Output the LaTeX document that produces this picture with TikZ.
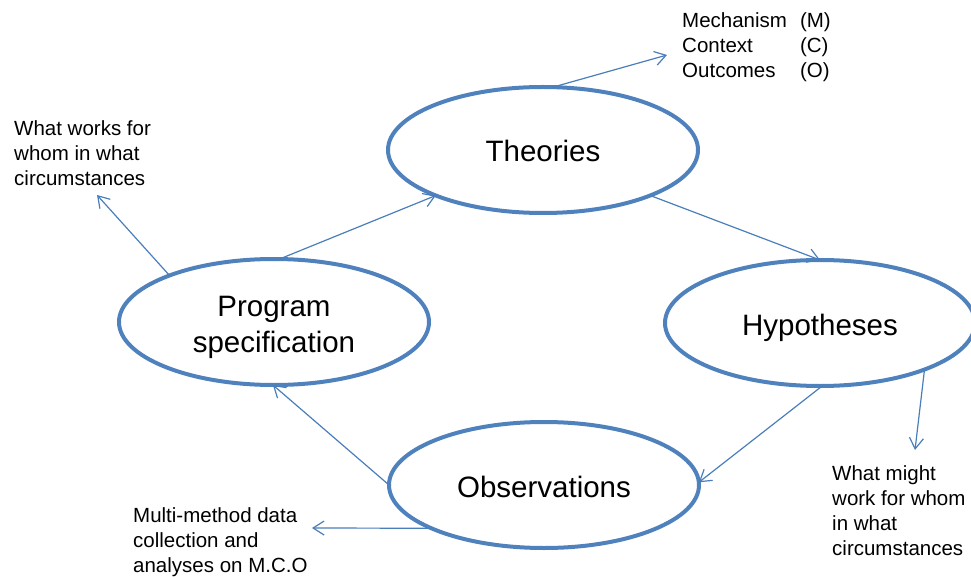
\documentclass[tikz,border=0pt]{standalone}
\usepackage{fontspec}
\setmainfont{Liberation Sans}
\usetikzlibrary{shapes.geometric,arrows.meta}
\definecolor{ringblue}{HTML}{4F81BD}
\definecolor{linkblue}{HTML}{4A7EBB}
\begin{document}
\begin{tikzpicture}[x=1pt,y=-1pt,
  stage/.style={ellipse, draw=ringblue, line width=4pt,
    minimum width=310pt, minimum height=126pt, inner sep=0pt, outer sep=0pt,
    font=\fontsize{29.5}{36}\selectfont, align=center,
    text height=24pt, text depth=0pt},
  link/.style={draw=linkblue, line width=1.2pt,
    -{Straight Barb[length=11pt,width=14pt]}},
  note/.style={anchor=base west, inner sep=0pt, align=left,
    font=\fontsize{20.5}{25}\selectfont}]
\useasboundingbox (0,0) rectangle (971,577);

% the four stages of the cycle
\node[stage] (theo) at (543,150) {Theories};
\node[stage, text height=60pt, text depth=0pt] (prog) at (274,322) {Program\\specification};
\node[stage] (hyp) at (820,323) {Hypotheses};
\node[stage] (obs) at (544,485) {Observations};

% side notes (placed by the baseline of their last line)
\node[note] (mcotext) at (682,28) {\begin{tabular}[t]{@{}l@{\hspace{13pt}}l@{}}Mechanism & (M)\\ Context & (C)\\ Outcomes & (O)\end{tabular}};
\node[note] (wwtext) at (14,186) {What works for\\whom in what\\circumstances};
\node[note] (wmtext) at (832,555) {What might\\work for whom\\in what\\circumstances};
\node[note] (mmtext) at (133,572) {Multi-method data\\collection and\\analyses on M.C.O};

% free ends of the note arrows
\coordinate (mco) at (667,55);
\coordinate (ww) at (97,195);
\coordinate (wm) at (915,450);
\coordinate (mm) at (312,528);

% cycle connectors
\draw[link] (prog.85) -- (theo.203);
\draw[link] (theo.337) -- (hyp.90);
\draw[link] (hyp.272) -- (obs.1);
\draw[link] (obs.180) -- (prog.269);

% note connectors
\draw[link] (theo.81) -- (mco);
\draw[link] (prog.156) -- (ww);
\draw[link] (hyp.336) -- (wm);
\draw[link] (obs.201) -- (mm);
\end{tikzpicture}
\end{document}
